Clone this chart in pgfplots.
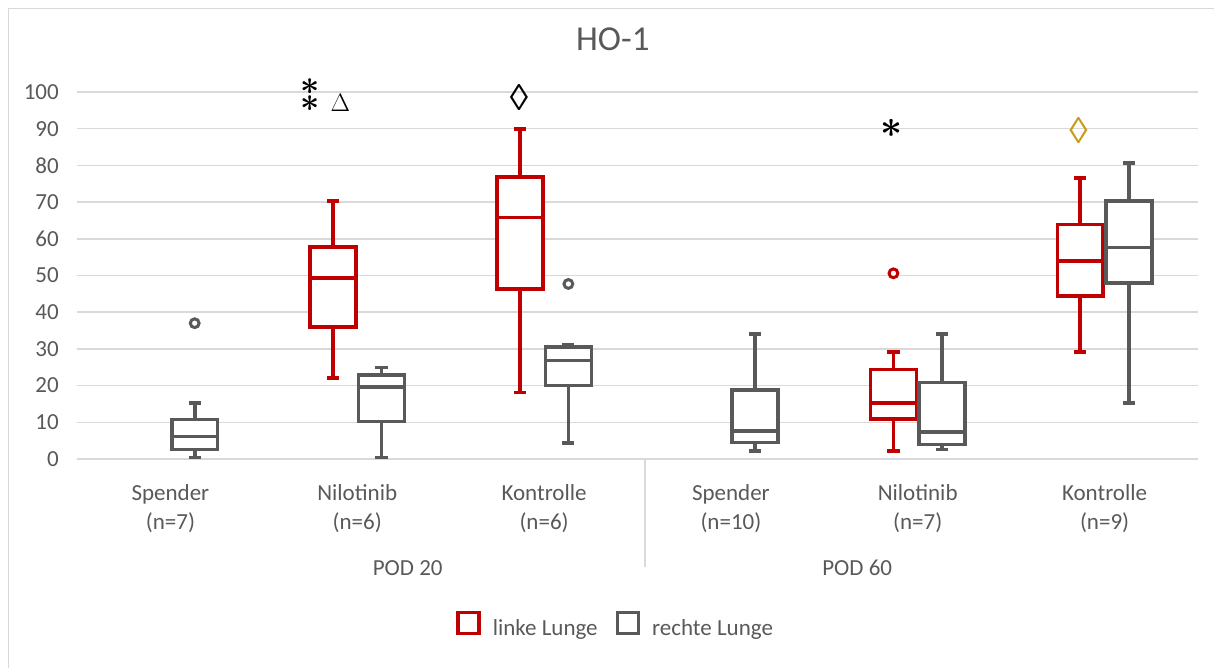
\documentclass[border=0pt]{standalone}
\usepackage{pgfplots}
\pgfplotsset{compat=1.18}
\usepgfplotslibrary{statistics}
\usepackage{fontspec}
\setmainfont{Carlito}
\newfontfamily\serifsym{Liberation Serif}
\definecolor{cRed}{HTML}{C00000}
\definecolor{cGray}{HTML}{595959}
\definecolor{cGrid}{HTML}{D9D9D9}
\definecolor{cGold}{HTML}{C99A16}
\pgfplotsset{
  redbox/.style={cRed, line width=3.6bp, fill=white, mark=*, mark size=4.4bp, mark options={fill=white, draw=cRed, line width=3bp}},
  graybox/.style={cGray, line width=3.6bp, fill=white, mark=*, mark size=4.4bp, mark options={fill=white, draw=cGray, line width=3bp}},
}
\begin{document}
\begin{tikzpicture}
\path[use as bounding box] (0bp,0bp) rectangle (1214bp,-668bp);
\draw[cGrid, line width=1bp] (8bp,-668bp) -- (8bp,-8bp) -- (1214bp,-8bp);
\begin{axis}[
  at={(77bp,-459bp)}, anchor=south west,
  scale only axis, width=1121bp, height=367bp,
  xmin=-0.5, xmax=5.5, ymin=0, ymax=100,
  clip=false,
  axis line style={draw=none},
  tick style={draw=none},
  ytick={0,10,...,100},
  ymajorgrids, grid style={cGrid, line width=1.5bp},
  xtick={0,...,5},
  xticklabels={{Spender\\(n=7)},{Nilotinib\\(n=6)},{Kontrolle\\(n=6)},{Spender\\(n=10)},{Nilotinib\\(n=7)},{Kontrolle\\(n=9)}},
  xticklabel style={align=center, font=\fontsize{23bp}{29bp}\selectfont, text=cGray, inner sep=0pt, anchor=north, yshift=-25bp},
  yticklabel style={font=\fontsize{23bp}{28bp}\selectfont, text=cGray, inner sep=0pt, anchor=east, xshift=-18bp},
  /pgf/number format/assume math mode=true,
  boxplot/draw direction=y,
  title={HO-1},
  title style={at={(0.478,1.128)}, anchor=center, font=\fontsize{35bp}{40bp}\selectfont, text=cGray, inner sep=0pt},
  legend style={at={(0.4805,-0.452)}, anchor=center, draw=none, fill=none, font=\fontsize{23bp}{28bp}\selectfont, text=cGray,
    /tikz/every even column/.append style={column sep=16bp}},
  legend columns=2, legend cell align=left,
]
% POD 20 - Spender (only right lung)
\addplot[graybox, forget plot, boxplot prepared={draw position=0.13, lower whisker=0.4, lower quartile=2.6, median=6.1, upper quartile=10.8, upper whisker=15.2, box extend=0.246, whisker extend=0.065}]
  table[row sep=\\, y index=0] {y\\ 37.0\\};
% POD 20 - Nilotinib
\addplot[redbox, forget plot, boxplot prepared={draw position=0.87, lower whisker=22.0, lower quartile=35.9, median=49.4, upper quartile=57.7, upper whisker=70.3, box extend=0.246, whisker extend=0.065}]
  coordinates {};
\addplot[graybox, forget plot, boxplot prepared={draw position=1.13, lower whisker=0.4, lower quartile=10.2, median=19.7, upper quartile=22.9, upper whisker=24.9, box extend=0.246, whisker extend=0.065}]
  coordinates {};
% POD 20 - Kontrolle
\addplot[redbox, forget plot, boxplot prepared={draw position=1.87, lower whisker=18.1, lower quartile=46.3, median=65.8, upper quartile=76.9, upper whisker=90.0, box extend=0.246, whisker extend=0.065}]
  coordinates {};
\addplot[graybox, forget plot, boxplot prepared={draw position=2.13, lower whisker=4.4, lower quartile=20.0, median=26.8, upper quartile=30.6, upper whisker=31.1, box extend=0.246, whisker extend=0.065}]
  table[row sep=\\, y index=0] {y\\ 47.7\\};
% POD 60 - Spender
\addplot[graybox, forget plot, boxplot prepared={draw position=3.13, lower whisker=2.2, lower quartile=4.5, median=7.6, upper quartile=18.8, upper whisker=34.0, box extend=0.246, whisker extend=0.065}]
  coordinates {};
% POD 60 - Nilotinib
\addplot[redbox, forget plot, boxplot prepared={draw position=3.87, lower whisker=2.2, lower quartile=10.9, median=15.2, upper quartile=24.4, upper whisker=29.2, box extend=0.246, whisker extend=0.065}]
  table[row sep=\\, y index=0] {y\\ 50.6\\};
\addplot[graybox, forget plot, boxplot prepared={draw position=4.13, lower whisker=2.6, lower quartile=4.0, median=7.4, upper quartile=20.8, upper whisker=34.0, box extend=0.246, whisker extend=0.065}]
  coordinates {};
% POD 60 - Kontrolle
\addplot[redbox, forget plot, boxplot prepared={draw position=4.87, lower whisker=29.1, lower quartile=44.4, median=54.0, upper quartile=63.9, upper whisker=76.5, box extend=0.246, whisker extend=0.065}]
  coordinates {};
\addplot[graybox, forget plot, boxplot prepared={draw position=5.13, lower whisker=15.3, lower quartile=48.0, median=57.6, upper quartile=70.3, upper whisker=80.6, box extend=0.246, whisker extend=0.065}]
  coordinates {};
% legend
\addlegendimage{legend image code/.code={\draw[cRed, line width=3.5bp, fill=white] (0bp,-5bp) rectangle (21bp,16bp) (31bp,0bp);}}
\addlegendentry{linke Lunge}
\addlegendimage{legend image code/.code={\draw[cGray, line width=3.5bp, fill=white] (0bp,-5bp) rectangle (21bp,16bp) (31bp,0bp);}}
\addlegendentry{rechte Lunge}
% annotations
\node[font=\fontsize{24bp}{13bp}\selectfont\boldmath, inner sep=0pt, scale=1.35, align=center] at (axis cs:0.749,99.2) {$\ast$\\$\ast$};
\node[font=\fontsize{20bp}{20bp}\selectfont, inner sep=0pt, scale=1.22] at (axis cs:0.909,97.0) {$\Delta$};
\node[font=\serifsym\fontsize{37bp}{37bp}\selectfont, inner sep=0pt] at (axis cs:1.866,98.5) {◊};
\node[font=\fontsize{24bp}{24bp}\selectfont\boldmath, inner sep=0pt, scale=1.55] at (axis cs:3.86,90.2) {$\ast$};
\node[font=\serifsym\fontsize{37bp}{37bp}\selectfont, inner sep=0pt, text=cGold] at (axis cs:4.86,89.4) {◊};
% group labels and divider
\draw[cGrid, line width=1.5bp] (axis cs:2.54,0) -- ++(0bp,-108bp);
\node[font=\fontsize{23bp}{28bp}\selectfont, text=cGray, inner sep=0pt] at (axis description cs:0.295,-0.297) {POD 20};
\node[font=\fontsize{23bp}{28bp}\selectfont, text=cGray, inner sep=0pt] at (axis description cs:0.696,-0.297) {POD 60};
\end{axis}
\end{tikzpicture}
\end{document}
